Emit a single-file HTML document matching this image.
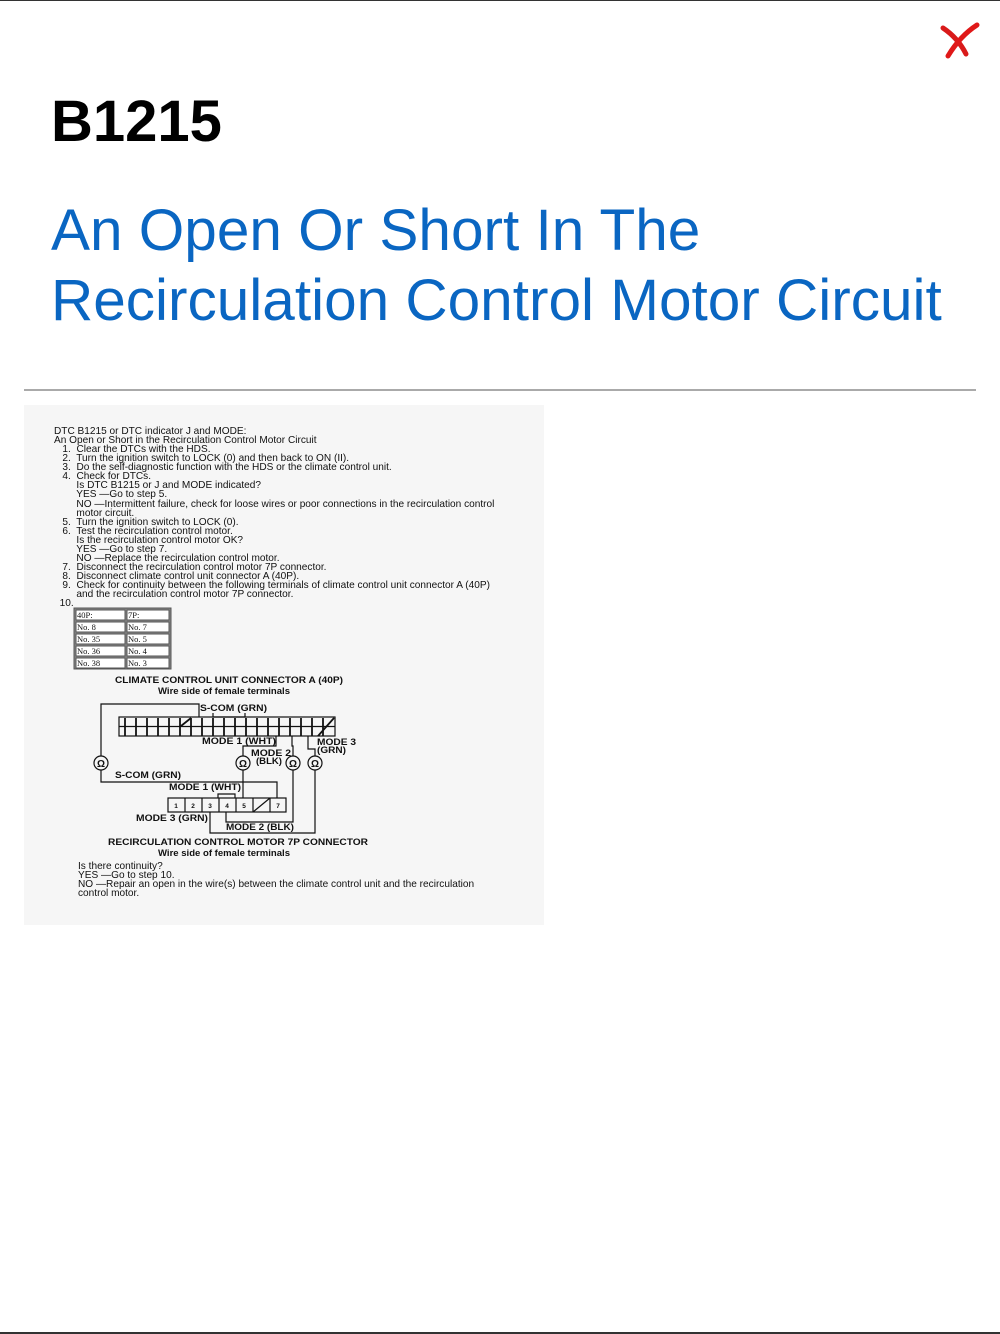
<!DOCTYPE html>
<html><head><meta charset="utf-8"><style>
body{margin:0;width:1000px;height:1334px;position:relative;background:#fff;font-family:"Liberation Sans",sans-serif;overflow:hidden}
.top{position:absolute;left:0;top:0;width:1000px;height:1px;background:#333}
.bot{position:absolute;left:0;top:1332px;width:1000px;height:2px;background:#333}
h1{position:absolute;left:51px;top:88px;margin:0;font-size:58px;font-weight:bold;color:#000}
h2{position:absolute;left:51px;top:196px;margin:0;font-size:58.5px;font-weight:normal;color:#0a66c2;line-height:70px}
.hr{position:absolute;left:24px;top:389px;width:952px;height:2px;background:#aaa}
.panel{position:absolute;left:24px;top:405px;width:520px;height:520px;background:#f6f6f6}
.t{position:absolute;font-size:10.1px;line-height:9.07px;color:#111;white-space:pre}
</style></head><body>
<div class="top"></div><div class="bot"></div>
<svg style="position:absolute;left:938px;top:20px" width="44" height="44"><path d="M5 8 Q20 18 28 34" stroke="#d91a1a" stroke-width="5" fill="none" stroke-linecap="round"/><path d="M39 5 Q22 16 10 36" stroke="#e01818" stroke-width="5" fill="none" stroke-linecap="round"/></svg>
<h1>B1215</h1>
<h2>An Open Or Short In The<br>Recirculation Control Motor Circuit</h2>
<div class="hr"></div>
<div class="panel"></div>
<div class="t" style="left:54px;top:427px">DTC B1215 or DTC indicator J and MODE:
An Open or Short in the Recirculation Control Motor Circuit
   1.  Clear the DTCs with the HDS.
   2.  Turn the ignition switch to LOCK (0) and then back to ON (II).
   3.  Do the self-diagnostic function with the HDS or the climate control unit.
   4.  Check for DTCs.
        Is DTC B1215 or J and MODE indicated?
        YES —Go to step 5.
        NO —Intermittent failure, check for loose wires or poor connections in the recirculation control
        motor circuit.
   5.  Turn the ignition switch to LOCK (0).
   6.  Test the recirculation control motor.
        Is the recirculation control motor OK?
        YES —Go to step 7.
        NO —Replace the recirculation control motor.
   7.  Disconnect the recirculation control motor 7P connector.
   8.  Disconnect climate control unit connector A (40P).
   9.  Check for continuity between the following terminals of climate control unit connector A (40P)
        and the recirculation control motor 7P connector.
  10.</div>
<svg style="position:absolute;left:0;top:0" width="1000" height="1000" font-family="Liberation Sans" >
<g fill="#fff" stroke="#555" stroke-width="1">
<rect x="74" y="608" width="97" height="61" fill="#888"/>
<rect x="76" y="610" width="49" height="10"/><rect x="127" y="610" width="42" height="10"/>
<rect x="76" y="622" width="49" height="10"/><rect x="127" y="622" width="42" height="10"/>
<rect x="76" y="634" width="49" height="10"/><rect x="127" y="634" width="42" height="10"/>
<rect x="76" y="646" width="49" height="10"/><rect x="127" y="646" width="42" height="10"/>
<rect x="76" y="658" width="49" height="10"/><rect x="127" y="658" width="42" height="10"/>
</g>
<g font-family="Liberation Serif" font-size="8.5" fill="#111">
<text x="77" y="618">40P:</text><text x="128" y="618">7P:</text>
<text x="77" y="630">No. 8</text><text x="128" y="630">No. 7</text>
<text x="77" y="642">No. 35</text><text x="128" y="642">No. 5</text>
<text x="77" y="654">No. 36</text><text x="128" y="654">No. 4</text>
<text x="77" y="666">No. 38</text><text x="128" y="666">No. 3</text>
</g>
<g font-size="8.8" font-weight="bold" fill="#111" lengthAdjust="spacingAndGlyphs">
<text x="115" y="683" textLength="228" lengthAdjust="spacingAndGlyphs">CLIMATE CONTROL UNIT CONNECTOR A (40P)</text>
<text x="158" y="694" textLength="132" lengthAdjust="spacingAndGlyphs">Wire side of female terminals</text>
<text x="200" y="711" textLength="67" lengthAdjust="spacingAndGlyphs">S-COM (GRN)</text>
<text x="202" y="744" textLength="74" lengthAdjust="spacingAndGlyphs">MODE 1 (WHT)</text>
<text x="251" y="756" textLength="40" lengthAdjust="spacingAndGlyphs">MODE 2</text><text x="256" y="764" textLength="26" lengthAdjust="spacingAndGlyphs">(BLK)</text>
<text x="317" y="745" textLength="39" lengthAdjust="spacingAndGlyphs">MODE 3</text><text x="317" y="753" textLength="29" lengthAdjust="spacingAndGlyphs">(GRN)</text>
<text x="115" y="778" textLength="66" lengthAdjust="spacingAndGlyphs">S-COM (GRN)</text>
<text x="169" y="790" textLength="72" lengthAdjust="spacingAndGlyphs">MODE 1 (WHT)</text>
<text x="136" y="821" textLength="72" lengthAdjust="spacingAndGlyphs">MODE 3 (GRN)</text>
<text x="226" y="830" textLength="68" lengthAdjust="spacingAndGlyphs">MODE 2 (BLK)</text>
<text x="108" y="845" textLength="260" lengthAdjust="spacingAndGlyphs">RECIRCULATION CONTROL MOTOR 7P CONNECTOR</text>
<text x="158" y="856" textLength="132" lengthAdjust="spacingAndGlyphs">Wire side of female terminals</text>
</g>
<g fill="none" stroke="#111" stroke-width="1.2">
<rect x="119" y="717" width="216" height="19"/>
<line x1="119" y1="726.5" x2="335" y2="726.5"/>
<path d="M101 756 V704 H199 V717"/>
<path d="M101 770 V782 H277 V798"/>
<path d="M276 736 V746 H243 V756 M243 770 V798"/>
<path d="M292 736 V746 H293 V756 M293 770 V822 H226 V812"/>
<path d="M308 736 V749 H315 V756 M315 770 V833 H210 V812"/>
<path d="M213 713 V717 H245 V713"/>
<rect x="168" y="798" width="118" height="14"/>
<path d="M185 798V812M202 798V812M219 798V812M236 798V812M253 798V812M270 798V812M253 812L270 798"/>
<path d="M218 798 V794 H235 V798"/>
<circle cx="101" cy="763" r="7"/><circle cx="243" cy="763" r="7"/><circle cx="293" cy="763" r="7"/><circle cx="315" cy="763" r="7"/>
</g>
<g font-size="10" font-weight="bold" fill="#111" text-anchor="middle">
<text x="101" y="767">Ω</text><text x="243" y="767">Ω</text><text x="293" y="767">Ω</text><text x="315" y="767">Ω</text>
</g>
<g font-size="6.5" font-weight="bold" fill="#111" text-anchor="middle">
<text x="176" y="808">1</text><text x="193" y="808">2</text><text x="210" y="808">3</text><text x="227" y="808">4</text><text x="244" y="808">5</text><text x="278" y="808">7</text>
</g>
<g stroke="#111" stroke-width="1.8">
<path d="M125 718V736M136 718V736M147 718V736M158 718V736M169 718V736M180 718V736M191 718V736M202 718V736M213 718V736M224 718V736M235 718V736M246 718V736M257 718V736M268 718V736M279 718V736M290 718V736M301 718V736M312 718V736M323 718V736"/>
<path d="M181 726L191 718M318 736L334 718"/>
</g>
</svg>
<div class="t" style="left:78px;top:862px">Is there continuity?
YES —Go to step 10.
NO —Repair an open in the wire(s) between the climate control unit and the recirculation
control motor.</div>
</body></html>
